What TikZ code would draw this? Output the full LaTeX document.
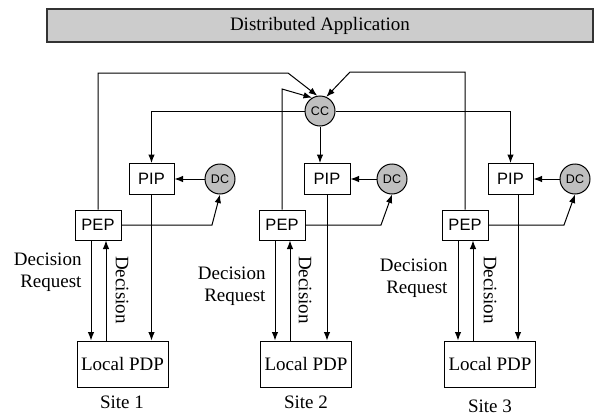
\documentclass[tikz,border=0pt]{standalone}
\usepackage{fontspec}
\setmainfont{Liberation Serif}
\setsansfont{Liberation Sans}
\usetikzlibrary{arrows.meta}

\begin{document}
\begin{tikzpicture}[x=1pt,y=-1pt,line width=1pt,
  box/.style={draw,inner sep=0pt,font=\sffamily\fontsize{16.5}{18}\selectfont},
  pdpbox/.style={draw,inner sep=0pt,minimum width=91pt,minimum height=46pt,font=\fontsize{19}{21}\selectfont},
  ball/.style={draw,circle,fill=black!25,minimum size=30pt,inner sep=0pt,font=\sffamily\fontsize{12.5}{14}\selectfont},
  txt/.style={inner sep=0pt,font=\fontsize{19}{22}\selectfont},
  >={Latex[length=8.5pt,width=6.5pt]}]
\useasboundingbox (0,0) rectangle (594,415);
\node[draw=black!80,fill=black!20,line width=1.2pt,minimum width=546pt,minimum height=33pt,txt] (app) at (320,25.5) {Distributed Application};
\node[ball] (cc) at (320,111) {CC};
% site 1
\node[box,minimum width=46pt,minimum height=30pt] (pep1) at (98,225) {PEP};
\node[box,minimum width=45pt,minimum height=31pt] (pip1) at (151.5,179) {PIP};
\node[ball] (dc1) at (220,179) {DC};
\node[pdpbox] (pdp1) at (122.5,364) {Local PDP};
\node[txt,align=right,anchor=east] (req1) at (82,272) {Decision\\Request};
\node[txt,rotate=-90] (dec1) at (122,290) {Decision};
\node[txt] (site1) at (122,402) {Site 1};
% site 2
\node[box,minimum width=46pt,minimum height=30pt] (pep2) at (282,225) {PEP};
\node[box,minimum width=46pt,minimum height=31pt] (pip2) at (327,179) {PIP};
\node[ball] (dc2) at (392,179) {DC};
\node[pdpbox] (pdp2) at (306,364) {Local PDP};
\node[txt,align=right,anchor=east] (req2) at (266,286.5) {Decision\\Request};
\node[txt,rotate=-90] (dec2) at (305,290) {Decision};
\node[txt] (site2) at (306,402) {Site 2};
% site 3
\node[box,minimum width=46pt,minimum height=30pt] (pep3) at (465,225) {PEP};
\node[box,minimum width=45pt,minimum height=31pt] (pip3) at (510.5,179) {PIP};
\node[ball] (dc3) at (575,179) {DC};
\node[pdpbox] (pdp3) at (490,364) {Local PDP};
\node[txt,align=right,anchor=east] (req3) at (448,278.5) {Decision\\Request};
\node[txt,rotate=-90] (dec3) at (490,290) {Decision};
\node[txt] (site3) at (490,406) {Site 3};

\draw[->] (pep1.north) |- (288,73) -- (cc.100);
\draw[->] (pep2.north) -- (282,89) -- (cc.121);
\draw[->] (pep3.north) |- (350,72) -- (cc.66);
\draw[->] (cc.west) -| (pip1.north);
\draw[->] (cc.east) -| (pip3.north);
\draw[->] (cc.south) -- (cc.south |- pip2.north);

\draw[->] (dc1) -- (pip1);
\draw[->] (dc2) -- (pip2);
\draw[->] (dc3) -- (pip3);
\draw[->] (pep1.east) -- (212,225) -- (dc1.south);
\draw[->] (pep2.east) -- (381,225) -- (dc2.south);
\draw[->] (pep3.east) -- (564,225) -- (dc3.south);

\draw[->] ([xshift=-7pt]pep1.south) -- ([xshift=-7pt]pep1.south |- pdp1.north);
\draw[<-] ([xshift=8pt]pep1.south) -- ([xshift=8pt]pep1.south |- pdp1.north);
\draw[->] (pip1.south) -- (pip1.south |- pdp1.north);
\draw[->] ([xshift=-7pt]pep2.south) -- ([xshift=-7pt]pep2.south |- pdp2.north);
\draw[<-] ([xshift=8pt]pep2.south) -- ([xshift=8pt]pep2.south |- pdp2.north);
\draw[->] (pip2.south) -- (pip2.south |- pdp2.north);
\draw[->] ([xshift=-7pt]pep3.south) -- ([xshift=-7pt]pep3.south |- pdp3.north);
\draw[<-] ([xshift=8pt]pep3.south) -- ([xshift=8pt]pep3.south |- pdp3.north);
\draw[->] ([xshift=7.5pt]pip3.south) -- ([xshift=7.5pt]pip3.south |- pdp3.north);
\end{tikzpicture}
\end{document}
